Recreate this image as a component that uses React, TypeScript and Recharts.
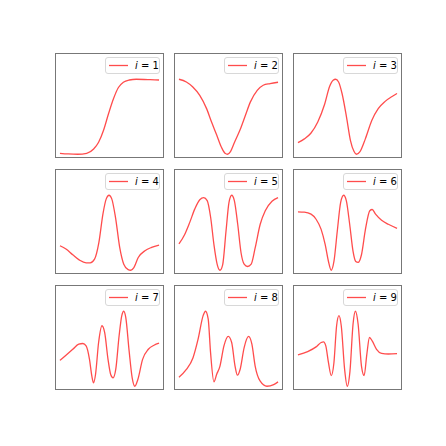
import React from 'react'
import { LineChart, Line, XAxis, YAxis } from 'recharts'

// x positions (0..1 along each curve) and normalised heights
const x1 = [0, 0.084, 0.18, 0.27, 0.34, 0.39, 0.44, 0.49, 0.54, 0.59, 0.64, 0.7, 0.77, 0.91, 1]
const y1 = [0.013, 0.004, 0, 0.013, 0.07, 0.16, 0.32, 0.54, 0.74, 0.89, 0.96, 0.99, 1, 0.995, 0.99]

const x2 = [0, 0.075, 0.14, 0.21, 0.28, 0.33, 0.38, 0.43, 0.465, 0.49, 0.52, 0.56, 0.62, 0.67, 0.72, 0.79, 0.85, 0.92, 1]
const y2 = [1, 0.964, 0.897, 0.785, 0.605, 0.426, 0.26, 0.09, 0.013, 0, 0.036, 0.157, 0.336, 0.516, 0.695, 0.852, 0.92, 0.942, 0.96]

const x3 = [0, 0.065, 0.13, 0.2, 0.27, 0.32, 0.355, 0.38, 0.41, 0.445, 0.49, 0.53, 0.565, 0.59, 0.626, 0.68, 0.745, 0.81, 0.88, 0.95, 1]
const y3 = [0.156, 0.205, 0.28, 0.43, 0.67, 0.906, 0.987, 1, 0.964, 0.81, 0.496, 0.183, 0.04, 0, 0.036, 0.205, 0.45, 0.607, 0.705, 0.77, 0.81]

const x4 = [0, 0.061, 0.129, 0.197, 0.264, 0.305, 0.349, 0.393, 0.434, 0.468, 0.495, 0.522, 0.56, 0.603, 0.644, 0.688, 0.715, 0.746, 0.79, 0.858, 0.925, 1]
const y4 = [0.327, 0.283, 0.206, 0.135, 0.099, 0.099, 0.148, 0.372, 0.753, 0.955, 1, 0.955, 0.709, 0.305, 0.081, 0.009, 0, 0.036, 0.17, 0.26, 0.305, 0.336]

const x5 = [0, 0.058, 0.108, 0.159, 0.21, 0.25, 0.285, 0.32, 0.353, 0.387, 0.414, 0.441, 0.475, 0.505, 0.532, 0.559, 0.593, 0.627, 0.658, 0.692, 0.729, 0.769, 0.82, 0.871, 0.939, 1]
const y5 = [0.351, 0.477, 0.635, 0.815, 0.941, 0.968, 0.928, 0.703, 0.342, 0.072, 0, 0.072, 0.523, 0.905, 1, 0.928, 0.613, 0.23, 0.081, 0.05, 0.081, 0.297, 0.613, 0.793, 0.919, 0.968]

const x6 = [0, 0.064, 0.132, 0.183, 0.234, 0.275, 0.308, 0.336, 0.363, 0.397, 0.431, 0.461, 0.488, 0.522, 0.556, 0.583, 0.607, 0.641, 0.681, 0.725, 0.749, 0.783, 0.844, 0.912, 1]
const y6 = [0.779, 0.775, 0.748, 0.68, 0.545, 0.342, 0.117, 0, 0.117, 0.523, 0.905, 1, 0.928, 0.613, 0.252, 0.117, 0.104, 0.207, 0.545, 0.793, 0.81, 0.748, 0.667, 0.613, 0.559]

const x7 = [0, 0.061, 0.129, 0.19, 0.231, 0.264, 0.298, 0.322, 0.339, 0.359, 0.39, 0.424, 0.451, 0.485, 0.512, 0.536, 0.563, 0.597, 0.624, 0.644, 0.664, 0.698, 0.729, 0.756, 0.786, 0.834, 0.892, 0.949, 1]
const y7 = [0.345, 0.413, 0.493, 0.561, 0.57, 0.538, 0.359, 0.135, 0.045, 0.157, 0.583, 0.807, 0.717, 0.359, 0.157, 0.112, 0.224, 0.673, 0.942, 1, 0.919, 0.471, 0.112, 0, 0.09, 0.359, 0.493, 0.547, 0.574]

const x8 = [0, 0.075, 0.142, 0.193, 0.244, 0.268, 0.295, 0.319, 0.353, 0.38, 0.414, 0.454, 0.498, 0.532, 0.566, 0.59, 0.617, 0.658, 0.702, 0.736, 0.769, 0.82, 0.888, 0.956, 1]
const y8 = [0.121, 0.224, 0.381, 0.628, 0.942, 1, 0.897, 0.448, 0.058, 0.157, 0.269, 0.538, 0.664, 0.583, 0.269, 0.148, 0.224, 0.516, 0.664, 0.561, 0.269, 0.067, 0, 0.022, 0.058]

const x9 = [0, 0.098, 0.183, 0.234, 0.258, 0.281, 0.308, 0.336, 0.363, 0.39, 0.414, 0.437, 0.471, 0.498, 0.525, 0.556, 0.58, 0.607, 0.641, 0.668, 0.695, 0.722, 0.749, 0.793, 0.844, 0.912, 1]
const y9 = [0.417, 0.462, 0.525, 0.583, 0.592, 0.538, 0.314, 0.143, 0.314, 0.807, 0.942, 0.807, 0.224, 0, 0.202, 0.83, 1, 0.83, 0.269, 0.143, 0.426, 0.65, 0.605, 0.493, 0.439, 0.43, 0.435]

const labels = ['1', '2', '3', '4', '5', '6', '7', '8', '9']
const xsList = [x1, x2, x3, x4, x5, x6, x7, x8, x9]
const ysList = [y1, y2, y3, y4, y5, y6, y7, y8, y9]

const PANEL_W = 109
const PANEL_H = 105
const LEFT = 55
const TOP = 53
const STEP_X = 119
const STEP_Y = 116
const RED = '#ff0000'

function Panel({ xs, ys, label, col, row }: { xs: number[]; ys: number[]; label: string; col: number; row: number }) {
  const data = xs.map((x, i) => ({ x, y: ys[i] }))
  const lo = Math.min(...ys)
  const hi = Math.max(...ys)
  const r = hi - lo
  const left = LEFT + col * STEP_X
  const top = TOP + row * STEP_Y

  return (
    <div style={{ position: 'absolute', left, top, width: PANEL_W, height: PANEL_H }}>
      <LineChart width={PANEL_W} height={PANEL_H} data={data} margin={{ top: 0, right: 0, bottom: 0, left: 0 }}>
        <XAxis dataKey="x" type="number" domain={[-0.05, 1.05]} hide />
        <YAxis type="number" domain={[lo - 0.05 * r, hi + 0.35 * r]} hide />
        <Line
          dataKey="y"
          type="monotone"
          stroke={RED}
          strokeOpacity={0.7}
          strokeWidth={1.3}
          dot={false}
          isAnimationActive={false}
        />
      </LineChart>
      {/* frame */}
      <div style={{ position: 'absolute', inset: 0, border: '1px solid #777', boxSizing: 'border-box', pointerEvents: 'none' }} />
      {/* legend */}
      <div
        style={{
          position: 'absolute',
          right: 4,
          top: 4,
          width: 55,
          height: 17,
          boxSizing: 'border-box',
          border: '1px solid #d8d8d8',
          borderRadius: 3,
          background: 'rgba(255,255,255,0.8)',
          display: 'flex',
          alignItems: 'center',
          fontFamily: '"DejaVu Sans", sans-serif',
          fontSize: 10,
          color: '#000',
        }}
      >
        <svg width={29} height={15} style={{ display: 'block', flex: 'none' }}>
          <line x1={3} y1={7.5} x2={22} y2={7.5} stroke={RED} strokeOpacity={0.7} strokeWidth={1.3} />
        </svg>
        <span style={{ whiteSpace: 'nowrap' }}>
          <i>i</i> = {label}
        </span>
      </div>
    </div>
  )
}

export default function App() {
  return (
    <div style={{ position: 'fixed', left: 0, top: 0, width: 446, height: 446, background: '#fff' }}>
      {labels.map((label, k) => (
        <Panel key={label} xs={xsList[k]} ys={ysList[k]} label={label} col={k % 3} row={Math.floor(k / 3)} />
      ))}
    </div>
  )
}
